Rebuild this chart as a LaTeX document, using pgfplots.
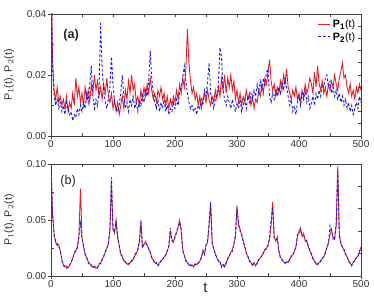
\documentclass[border=0pt]{standalone}
\usepackage{fontspec}
\setmainfont{Liberation Sans}
\setsansfont{Liberation Sans}
\usepackage{pgfplots}
\usepackage{pgfplotstable}
\pgfplotsset{compat=1.18}
\definecolor{pr}{RGB}{232,28,36}
\definecolor{pb}{RGB}{25,25,245}
\newcommand{\redsample}{\textcolor{pr}{\rule[0.55ex]{9pt}{0.65pt}}}
\newcommand{\bluesample}{\textcolor{pb}{\rule[0.55ex]{2pt}{0.65pt}\hspace{1.5pt}\rule[0.55ex]{2pt}{0.65pt}\hspace{1.5pt}\rule[0.55ex]{2pt}{0.65pt}}}

\pgfplotstableread{
t a1 a2
0 0.060 0.060
2.5 0.025 0.022
5 0.015 0.013
7.5 0.012 0.010
10 0.016 0.012
12.5 0.011 0.009
15 0.013 0.011
17.5 0.010 0.008
20 0.012 0.010
22.5 0.009 0.007
25 0.013 0.011
27.5 0.008 0.009
30 0.011 0.007
32.5 0.009 0.008
35 0.014 0.005
37.5 0.010 0.007
40 0.019 0.006
42.5 0.013 0.009
45 0.016 0.007
47.5 0.011 0.010
50 0.014 0.008
52.5 0.010 0.011
55 0.016 0.009
57.5 0.012 0.014
60 0.015 0.011
62.5 0.011 0.017
65 0.017 0.023
67.5 0.014 0.013
70 0.020 0.009
72.5 0.015 0.012
75 0.018 0.010
77.5 0.013 0.015
80 0.016 0.037
82.5 0.012 0.022
85 0.017 0.015
87.5 0.014 0.011
90 0.019 0.009
92.5 0.013 0.012
95 0.011 0.016
97.5 0.014 0.026
100 0.009 0.017
102.5 0.012 0.011
105 0.008 0.009
107.5 0.011 0.008
110 0.007 0.010
112.5 0.010 0.014
115 0.013 0.020
117.5 0.009 0.013
120 0.015 0.009
122.5 0.012 0.011
125 0.018 0.008
127.5 0.014 0.012
130 0.020 0.010
132.5 0.015 0.013
135 0.017 0.009
137.5 0.011 0.011
140 0.013 0.008
142.5 0.010 0.012
145 0.015 0.010
147.5 0.012 0.014
150 0.016 0.011
152.5 0.013 0.015
155 0.017 0.013
157.5 0.014 0.018
160 0.019 0.028
162.5 0.015 0.019
165 0.012 0.014
167.5 0.014 0.011
170 0.011 0.009
172.5 0.015 0.012
175 0.013 0.008
177.5 0.016 0.011
180 0.012 0.009
182.5 0.014 0.012
185 0.010 0.008
187.5 0.013 0.010
190 0.009 0.007
192.5 0.012 0.009
195 0.010 0.008
197.5 0.013 0.011
200 0.011 0.009
202.5 0.015 0.012
205 0.012 0.010
207.5 0.017 0.014
210 0.014 0.016
212.5 0.019 0.019
215 0.016 0.023
217.5 0.022 0.018
220 0.035 0.014
222.5 0.024 0.011
225 0.018 0.009
227.5 0.014 0.010
230 0.016 0.008
232.5 0.012 0.009
235 0.014 0.007
237.5 0.010 0.010
240 0.013 0.009
242.5 0.009 0.012
245 0.012 0.010
247.5 0.014 0.015
250 0.011 0.013
252.5 0.015 0.018
255 0.012 0.024
257.5 0.010 0.014
260 0.013 0.011
262.5 0.011 0.009
265 0.015 0.012
267.5 0.012 0.014
270 0.016 0.017
272.5 0.013 0.029
275 0.019 0.026
277.5 0.015 0.015
280 0.020 0.012
282.5 0.014 0.010
285 0.019 0.013
287.5 0.016 0.011
290 0.020 0.009
292.5 0.015 0.012
295 0.018 0.010
297.5 0.012 0.008
300 0.015 0.011
302.5 0.011 0.009
305 0.014 0.012
307.5 0.010 0.008
310 0.013 0.010
312.5 0.011 0.012
315 0.015 0.009
317.5 0.012 0.013
320 0.014 0.011
322.5 0.010 0.014
325 0.013 0.012
327.5 0.009 0.015
330 0.012 0.013
332.5 0.011 0.017
335 0.015 0.014
337.5 0.013 0.018
340 0.017 0.015
342.5 0.014 0.019
345 0.019 0.016
347.5 0.017 0.021
350 0.021 0.022
352.5 0.025 0.013
355 0.018 0.011
357.5 0.015 0.014
360 0.017 0.012
362.5 0.013 0.015
365 0.016 0.013
367.5 0.014 0.016
370 0.018 0.014
372.5 0.015 0.018
375 0.020 0.015
377.5 0.017 0.019
380 0.022 0.016
382.5 0.016 0.013
385 0.014 0.010
387.5 0.012 0.012
390 0.015 0.008
392.5 0.013 0.010
395 0.016 0.007
397.5 0.012 0.011
400 0.014 0.013
402.5 0.011 0.010
405 0.015 0.014
407.5 0.013 0.012
410 0.017 0.015
412.5 0.014 0.011
415 0.016 0.013
417.5 0.019 0.009
420 0.017 0.011
422.5 0.014 0.013
425 0.021 0.010
427.5 0.016 0.014
430 0.023 0.012
432.5 0.017 0.015
435 0.015 0.013
437.5 0.018 0.017
440 0.014 0.016
442.5 0.016 0.019
445 0.013 0.020
447.5 0.017 0.016
450 0.015 0.018
452.5 0.018 0.014
455 0.016 0.016
457.5 0.020 0.013
460 0.017 0.015
462.5 0.015 0.012
465 0.019 0.014
467.5 0.021 0.011
470 0.024 0.013
472.5 0.019 0.010
475 0.020 0.012
477.5 0.016 0.009
480 0.014 0.011
482.5 0.017 0.008
485 0.013 0.010
487.5 0.015 0.007
490 0.012 0.009
492.5 0.016 0.011
495 0.014 0.009
497.5 0.017 0.013
500 0.015 0.011
}\tableA

\pgfplotstableread{
t b1 b2
0 0.100 0.100
2.5 0.055 0.058
5 0.038 0.036
7.5 0.030 0.031
10 0.027 0.029
12.5 0.028 0.026
15 0.022 0.023
17.5 0.015 0.014
20 0.010 0.009
22.5 0.008 0.009
25 0.009 0.007
27.5 0.007 0.008
30 0.010 0.009
32.5 0.012 0.013
35 0.016 0.015
37.5 0.020 0.021
40 0.022 0.023
42.5 0.026 0.025
45 0.035 0.036
47.5 0.078 0.047
50 0.035 0.033
52.5 0.026 0.027
55 0.020 0.019
57.5 0.016 0.017
60 0.013 0.012
62.5 0.011 0.010
65 0.009 0.010
67.5 0.008 0.007
70 0.009 0.008
72.5 0.007 0.008
75 0.008 0.007
77.5 0.010 0.011
80 0.012 0.011
82.5 0.014 0.015
85 0.018 0.017
87.5 0.021 0.022
90 0.025 0.024
92.5 0.028 0.030
95 0.040 0.042
97.5 0.083 0.088
100 0.042 0.040
102.5 0.038 0.040
105 0.050 0.048
107.5 0.035 0.033
110 0.027 0.028
112.5 0.020 0.019
115 0.017 0.018
117.5 0.014 0.013
120 0.012 0.013
122.5 0.011 0.010
125 0.010 0.011
127.5 0.012 0.011
130 0.013 0.014
132.5 0.015 0.014
135 0.018 0.019
137.5 0.020 0.021
140 0.024 0.023
142.5 0.030 0.032
145 0.048 0.050
147.5 0.026 0.025
150 0.028 0.029
152.5 0.031 0.029
155 0.027 0.028
157.5 0.025 0.024
160 0.021 0.022
162.5 0.017 0.016
165 0.014 0.015
167.5 0.012 0.011
170 0.011 0.012
172.5 0.010 0.009
175 0.012 0.011
177.5 0.013 0.014
180 0.015 0.014
182.5 0.017 0.018
185 0.019 0.018
187.5 0.022 0.023
190 0.027 0.026
192.5 0.040 0.043
195 0.033 0.031
197.5 0.030 0.031
200 0.036 0.034
202.5 0.038 0.040
205 0.044 0.043
207.5 0.050 0.048
210 0.040 0.042
212.5 0.024 0.022
215 0.018 0.019
217.5 0.014 0.013
220 0.012 0.013
222.5 0.010 0.009
225 0.009 0.010
227.5 0.010 0.009
230 0.008 0.009
232.5 0.011 0.010
235 0.010 0.011
237.5 0.012 0.011
240 0.013 0.014
242.5 0.017 0.016
245 0.022 0.023
247.5 0.020 0.019
250 0.027 0.028
252.5 0.030 0.031
255 0.045 0.048
257.5 0.064 0.066
260 0.030 0.028
262.5 0.024 0.025
265 0.020 0.019
267.5 0.016 0.017
270 0.014 0.013
272.5 0.012 0.013
275 0.009 0.008
277.5 0.010 0.011
280 0.008 0.009
282.5 0.012 0.011
285 0.015 0.016
287.5 0.018 0.017
290 0.021 0.022
292.5 0.023 0.022
295 0.028 0.029
297.5 0.035 0.037
300 0.063 0.060
302.5 0.045 0.047
305 0.042 0.040
307.5 0.036 0.038
310 0.032 0.030
312.5 0.026 0.027
315 0.021 0.020
317.5 0.017 0.018
320 0.014 0.013
322.5 0.012 0.013
325 0.010 0.009
327.5 0.011 0.012
330 0.009 0.010
332.5 0.012 0.011
335 0.014 0.015
337.5 0.016 0.015
340 0.018 0.019
342.5 0.021 0.020
345 0.023 0.024
347.5 0.025 0.024
350 0.027 0.028
352.5 0.033 0.035
355 0.045 0.050
357.5 0.066 0.062
360 0.035 0.033
362.5 0.031 0.032
365 0.035 0.033
367.5 0.022 0.023
370 0.017 0.016
372.5 0.014 0.015
375 0.013 0.012
377.5 0.011 0.012
380 0.013 0.012
382.5 0.012 0.013
385 0.015 0.014
387.5 0.017 0.018
390 0.019 0.018
392.5 0.022 0.023
395 0.026 0.025
397.5 0.035 0.037
400 0.040 0.038
402.5 0.043 0.041
405 0.035 0.037
407.5 0.038 0.036
410 0.031 0.033
412.5 0.032 0.030
415 0.026 0.027
417.5 0.023 0.022
420 0.019 0.020
422.5 0.016 0.015
425 0.013 0.014
427.5 0.011 0.010
430 0.010 0.011
432.5 0.012 0.011
435 0.013 0.014
437.5 0.016 0.015
440 0.017 0.018
442.5 0.021 0.020
445 0.025 0.026
447.5 0.030 0.029
450 0.037 0.045
452.5 0.042 0.040
455 0.033 0.035
457.5 0.034 0.032
460 0.045 0.047
462.5 0.098 0.095
465 0.038 0.036
467.5 0.029 0.030
470 0.026 0.025
472.5 0.023 0.024
475 0.020 0.019
477.5 0.017 0.018
480 0.014 0.013
482.5 0.011 0.012
485 0.010 0.009
487.5 0.012 0.013
490 0.014 0.013
492.5 0.016 0.017
495 0.018 0.017
497.5 0.021 0.022
500 0.026 0.025
}\tableB

\pgfplotsset{
  base/.style={
    scale only axis, width=232.5pt,
    xmin=0, xmax=500,
    scaled y ticks=false, scaled x ticks=false,
    axis line style={line width=0.7pt, black!75},
    every tick/.style={line width=0.6pt, black!75},
    tick label style={font=\fontsize{7.5}{9}\selectfont, text=black!80},
    /pgf/number format/assume math mode=true,
  },
  main/.style={
    base,
    clip mode=individual,
    xtick={0,100,200,300,400,500},
    minor x tick num=1,
    minor y tick num=1,
    xtick pos=bottom, ytick pos=left,
    tick align=inside,
    major tick length=-2.5pt, minor tick length=2pt,
    y tick label style={/pgf/number format/fixed, /pgf/number format/fixed zerofill, /pgf/number format/precision=2},
    ylabel={P$_1$(t), P$_2$(t)},
    ylabel style={font=\fontsize{8}{9}\selectfont, text=black!80, at={(axis description cs:-0.135,0.5)}, anchor=center},
  },
  over/.style={
    base,
    axis x line*=top, axis y line*=right,
    xtick={0,50,...,500},
    xticklabels={}, yticklabels={},
    tick align=inside, major tick length=2pt,
  },
  redline/.style={draw=pr, line width=0.65pt, solid},
  blueline/.style={draw=pb, line width=0.65pt, dash pattern=on 2pt off 1.5pt},
}

\begin{document}
\begin{tikzpicture}
\useasboundingbox (-38.25pt,-20.25pt) rectangle (242.25pt,207pt);

% ---- panel (a)
\begin{axis}[main, at={(0pt,105pt)}, height=91.5pt, ymin=0, ymax=0.04,
  ytick={0,0.02,0.04},
  legend style={draw=none, fill=none, at={(rel axis cs:0.995,0.985)}, anchor=north east,
    font=\fontsize{8}{9}\selectfont, row sep=-2pt, inner sep=1pt},
  legend cell align=left,
  legend image code/.code={},
]
\addplot[redline] table[x=t, y=a1] {\tableA};
\addlegendentry{\redsample\hspace{2pt}\textbf{P$_{\mathbf{1}}$}(t)}
\addplot[blueline] table[x=t, y=a2] {\tableA};
\addlegendentry{\bluesample\hspace{2pt}\textbf{P$_{\mathbf{2}}$}(t)}
\node[anchor=west, font=\bfseries\fontsize{9.5}{10}\selectfont, text=black!85] at (axis description cs:0.025,0.83) {(a)};
\end{axis}
\begin{axis}[over, at={(0pt,105pt)}, height=91.5pt, ymin=0, ymax=0.04,
  ytick={0,0.004,...,0.04}]
\end{axis}

% ---- panel (b)
\begin{axis}[main, at={(0pt,0pt)}, height=84pt, ymin=0, ymax=0.1,
  ytick={0,0.05,0.10},
]
\addplot[redline] table[x=t, y=b1] {\tableB};
\addplot[blueline] table[x=t, y=b2] {\tableB};
\node[anchor=west, font=\fontsize{9.5}{10}\selectfont, text=black!85] at (axis description cs:0.015,0.85) {(b)};
\node[font=\fontsize{11}{12}\selectfont, text=black!85] at (axis description cs:0.498,-0.107) {t};
\end{axis}
\begin{axis}[over, at={(0pt,0pt)}, height=84pt, ymin=0, ymax=0.1,
  ytick={0,0.02,...,0.1}]
\end{axis}
\end{tikzpicture}
\end{document}
